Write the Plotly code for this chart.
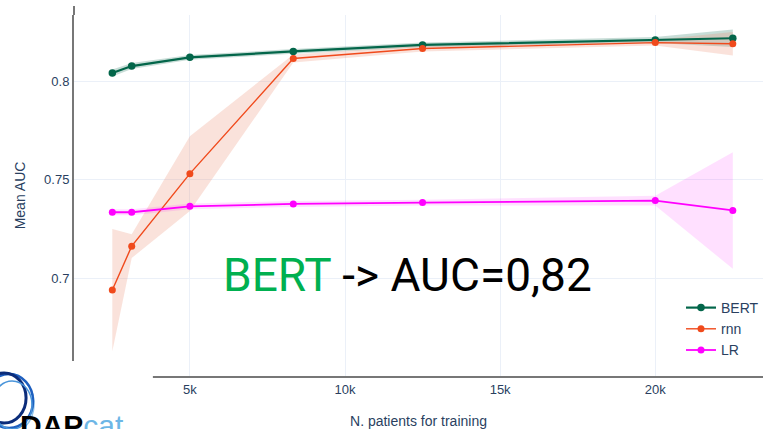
import plotly.graph_objects as go

# Training-set sizes and mean AUC (with spread) per model
n_patients = [2500, 3125, 5000, 8333, 12500, 20000, 22500]

bert_auc = [0.8041, 0.8076, 0.8120, 0.8150, 0.8183, 0.8208, 0.8217]
bert_sd = [0.0018, 0.0015, 0.0012, 0.0012, 0.0012, 0.0015, 0.0045]

rnn_auc = [0.6939, 0.7162, 0.7530, 0.8114, 0.8165, 0.8195, 0.8189]
rnn_sd = [0.0310, 0.0060, 0.0190, 0.0020, 0.0015, 0.0015, 0.0060]

lr_auc = [0.7334, 0.7334, 0.7364, 0.7376, 0.7383, 0.7393, 0.7343]
lr_sd = [0.0015, 0.0015, 0.0015, 0.0015, 0.0015, 0.0025, 0.0296]

x_ticks = [5000, 10000, 15000, 20000]
x_tick_text = ["5k", "10k", "15k", "20k"]
y_ticks = [0.7, 0.75, 0.8]
y_tick_text = ["0.7", "0.75", "0.8"]

W, H = 764, 429
ML, MR, MT, MB = 74, 0, 15, 53

series = [
    ("BERT", bert_auc, bert_sd, "#03664A", "rgba(3,102,74,0.22)", 2.2, 7.5),
    ("rnn", rnn_auc, rnn_sd, "#F04A1C", "rgba(236,140,110,0.25)", 1.4, 7),
    ("LR", lr_auc, lr_sd, "#FF00FF", "rgba(255,0,255,0.12)", 1.8, 7),
]

fig = go.Figure()
for name, mean, sd, color, fill, lw, ms in series:
    upper = [m + s for m, s in zip(mean, sd)]
    lower = [m - s for m, s in zip(mean, sd)]
    fig.add_trace(go.Scatter(
        x=n_patients + n_patients[::-1],
        y=upper + lower[::-1],
        fill="toself", fillcolor=fill,
        line=dict(width=0), mode="lines",
        hoverinfo="skip", showlegend=False,
    ))
for name, mean, sd, color, fill, lw, ms in series:
    fig.add_trace(go.Scatter(
        x=n_patients, y=mean, name=name,
        mode="lines+markers",
        line=dict(color=color, width=lw),
        marker=dict(color=color, size=ms),
    ))


def px(xp):
    return (xp - ML) / (W - ML - MR)


def py(yp):
    return (H - MB - yp) / (H - MT - MB)


shapes = [
    # white backing of the logo in the lower-left corner
    dict(type="rect", xref="paper", yref="paper", x0=px(-5), x1=px(153),
         y0=py(361), y1=py(440), fillcolor="white", line_width=0, layer="above"),
    # top stub of the y axis line
    dict(type="line", xref="paper", yref="paper", x0=0, x1=0, y0=1, y1=py(6),
         line=dict(color="#777777", width=2), layer="above"),
]
# logo swirl
for cx, cy, rx, ry, col, w in [
    (6, 404, 28, 31, "#8CC4EC", 1.5),
    (9, 401, 24, 27, "#1E5FBF", 2.5),
    (4, 398, 22, 25, "#0B2C7A", 3),
    (12, 405, 20, 24, "#4A95DA", 1.5),
]:
    shapes.append(dict(type="circle", xref="paper", yref="paper",
                       x0=px(cx - rx), x1=px(cx + rx), y0=py(cy + ry), y1=py(cy - ry),
                       line=dict(color=col, width=w), layer="above"))

annotations = [
    dict(text="<span style='color:#00B050'>BERT</span> -> AUC=0,82",
         xref="paper", yref="paper", x=px(408), y=py(275),
         xanchor="center", yanchor="middle", showarrow=False,
         font=dict(family="Roboto", size=46, color="black")),
    dict(text="<b>DAP</b><span style='color:#6DB6E6'>cat</span>",
         xref="paper", yref="paper", x=px(18), y=py(425),
         xanchor="left", yanchor="middle", showarrow=False,
         font=dict(family="Liberation Sans", size=30, color="black")),
]

fig.update_layout(
    template="plotly_white",
    width=W, height=H,
    margin=dict(l=ML, r=MR, t=MT, b=MB),
    font=dict(family="Liberation Sans", size=13, color="#2a3f5f"),
    xaxis=dict(
        range=[1265, 23473], tickvals=x_ticks, ticktext=x_tick_text,
        title=dict(text="N. patients for training", standoff=22,
                   font=dict(size=14)),
        showline=True, linecolor="#777777", linewidth=2,
        gridcolor="#EBF0F8", zeroline=False,
    ),
    yaxis=dict(
        range=[0.6503, 0.8335], tickvals=y_ticks, ticktext=y_tick_text,
        title=dict(text="Mean AUC", font=dict(size=14)),
        showline=True, linecolor="#777777", linewidth=2,
        gridcolor="#EBF0F8", zeroline=False,
    ),
    legend=dict(x=px(682), y=py(292), xanchor="left", yanchor="top",
                bgcolor="rgba(0,0,0,0)", font=dict(size=14)),
    shapes=shapes,
    annotations=annotations,
)

fig.write_html("out.html")
